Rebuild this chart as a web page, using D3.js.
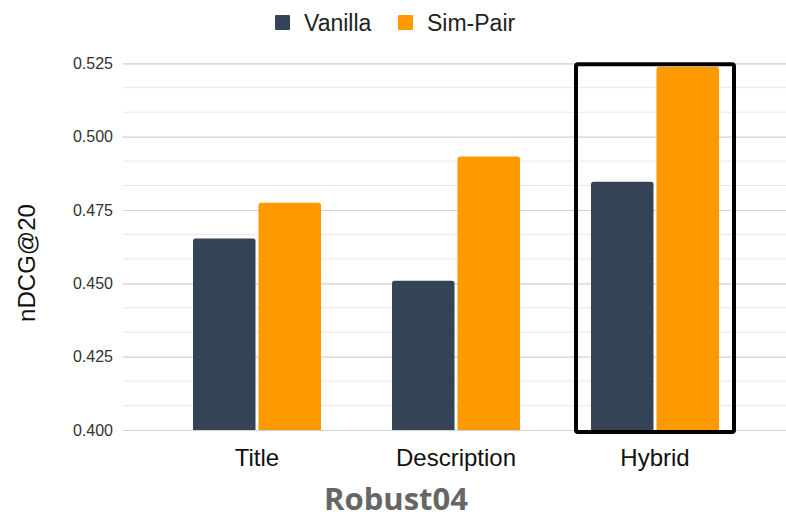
<!DOCTYPE html>
<html>
<head>
<meta charset="utf-8">
<script src="https://cdn.jsdelivr.net/npm/d3@7"></script>
<style>
  html, body { margin: 0; padding: 0; background: #fff; }
  svg { display: block; }
</style>
</head>
<body>
<svg id="chart" width="786" height="518"></svg>
<script>
// Query types on the x axis
const categories = ["Title", "Description", "Hybrid"];
// Series names and their bar colours
const seriesNames = ["Vanilla", "Sim-Pair"];
const seriesColors = ["#344456", "#ff9900"];
// nDCG@20 per query type
const vanillaValues = [0.4653, 0.4509, 0.4846];
const simPairValues = [0.4775, 0.4932, 0.5238];
// Y axis
const yTicks = [0.400, 0.425, 0.450, 0.475, 0.500, 0.525];
const yDomain = [0.400, 0.525];
const highlighted = "Hybrid";

const rows = categories.map((c, i) => ({
  category: c,
  values: [
    { key: seriesNames[0], value: vanillaValues[i] },
    { key: seriesNames[1], value: simPairValues[i] }
  ]
}));

const svg = d3.select("#chart");
const font = "'Liberation Sans', Arial, sans-serif";

const plotLeft = 123, plotRight = 786;
const y = d3.scaleLinear().domain(yDomain).range([430, 63.3]);
const x0 = d3.scaleBand().domain(categories).range([157.5, 754.5]).padding(0);
const groupWidth = 128;
const x1 = d3.scaleBand().domain(seriesNames).range([0, groupWidth]).paddingInner(3 / 65.5);
const color = d3.scaleOrdinal().domain(seriesNames).range(seriesColors);
const groupOffset = (x0.bandwidth() - groupWidth) / 2;

// Minor gridlines (two between each major tick)
const step = yTicks[1] - yTicks[0];
const minor = [];
yTicks.slice(0, -1).forEach(t => { minor.push(t + step / 3, t + 2 * step / 3); });

svg.append("g").selectAll("line").data(minor).join("line")
  .attr("x1", plotLeft).attr("x2", plotRight)
  .attr("y1", d => y(d)).attr("y2", d => y(d))
  .attr("stroke", "#e8e8e8").attr("stroke-width", 1);

// Major gridlines + tick labels via axis
const yAxis = d3.axisLeft(y).tickValues(yTicks).tickFormat(d3.format(".3f"))
  .tickSize(-(plotRight - plotLeft)).tickPadding(10);
const gy = svg.append("g").attr("transform", `translate(${plotLeft},0)`).call(yAxis);
gy.select(".domain").remove();
gy.selectAll(".tick line").attr("stroke", "#d2d2d2").attr("stroke-width", 1.2);
gy.selectAll(".tick text")
  .attr("font-family", font).attr("font-size", 16).attr("fill", "#333");

// Bars
const groups = svg.append("g").selectAll("g").data(rows).join("g")
  .attr("transform", d => `translate(${x0(d.category) + groupOffset},0)`);

groups.selectAll("path").data(d => d.values).join("path")
  .attr("fill", d => color(d.key))
  .attr("d", d => {
    const bx = x1(d.key), bw = x1.bandwidth();
    const top = y(d.value), bottom = y(yDomain[0]);
    const r = 2.5;
    return `M${bx},${bottom} V${top + r} Q${bx},${top} ${bx + r},${top} H${bx + bw - r} Q${bx + bw},${top} ${bx + bw},${top + r} V${bottom} Z`;
  });

// Highlight box around the Hybrid group
const hx = x0(highlighted) + groupOffset;
svg.append("rect")
  .attr("x", hx - 15).attr("y", y(yDomain[1]) + 1)
  .attr("width", groupWidth + 30).attr("height", y(yDomain[0]) - y(yDomain[1]) + 1)
  .attr("rx", 2)
  .attr("fill", "none").attr("stroke", "#000").attr("stroke-width", 4);

// Category labels
svg.append("g").selectAll("text").data(categories).join("text")
  .attr("x", d => x0(d) + x0.bandwidth() / 2)
  .attr("y", 466)
  .attr("text-anchor", "middle")
  .attr("font-family", font).attr("font-size", 24).attr("fill", "#111")
  .text(d => d);

// Y axis title
svg.append("text")
  .attr("transform", "translate(35,263) rotate(-90)")
  .attr("text-anchor", "middle")
  .attr("font-family", font).attr("font-size", 24).attr("fill", "#111")
  .text("nDCG@20");

// Chart title under the axis
svg.append("text")
  .attr("x", 396).attr("y", 510)
  .attr("text-anchor", "middle")
  .attr("font-family", "'Open Sans', sans-serif").attr("font-weight", 700)
  .attr("font-size", 31).attr("fill", "#666")
  .text("Robust04");

// Legend
const legendItems = [
  { name: seriesNames[0], sx: 275, tx: 304 },
  { name: seriesNames[1], sx: 398, tx: 427 }
];
const lg = svg.append("g");
lg.selectAll("rect").data(legendItems).join("rect")
  .attr("x", d => d.sx).attr("y", 15).attr("width", 15).attr("height", 15)
  .attr("rx", 1)
  .attr("fill", d => color(d.name));
lg.selectAll("text").data(legendItems).join("text")
  .attr("x", d => d.tx).attr("y", 31)
  .attr("font-family", font).attr("font-size", 23).attr("fill", "#222")
  .text(d => d.name);
</script>
</body>
</html>
